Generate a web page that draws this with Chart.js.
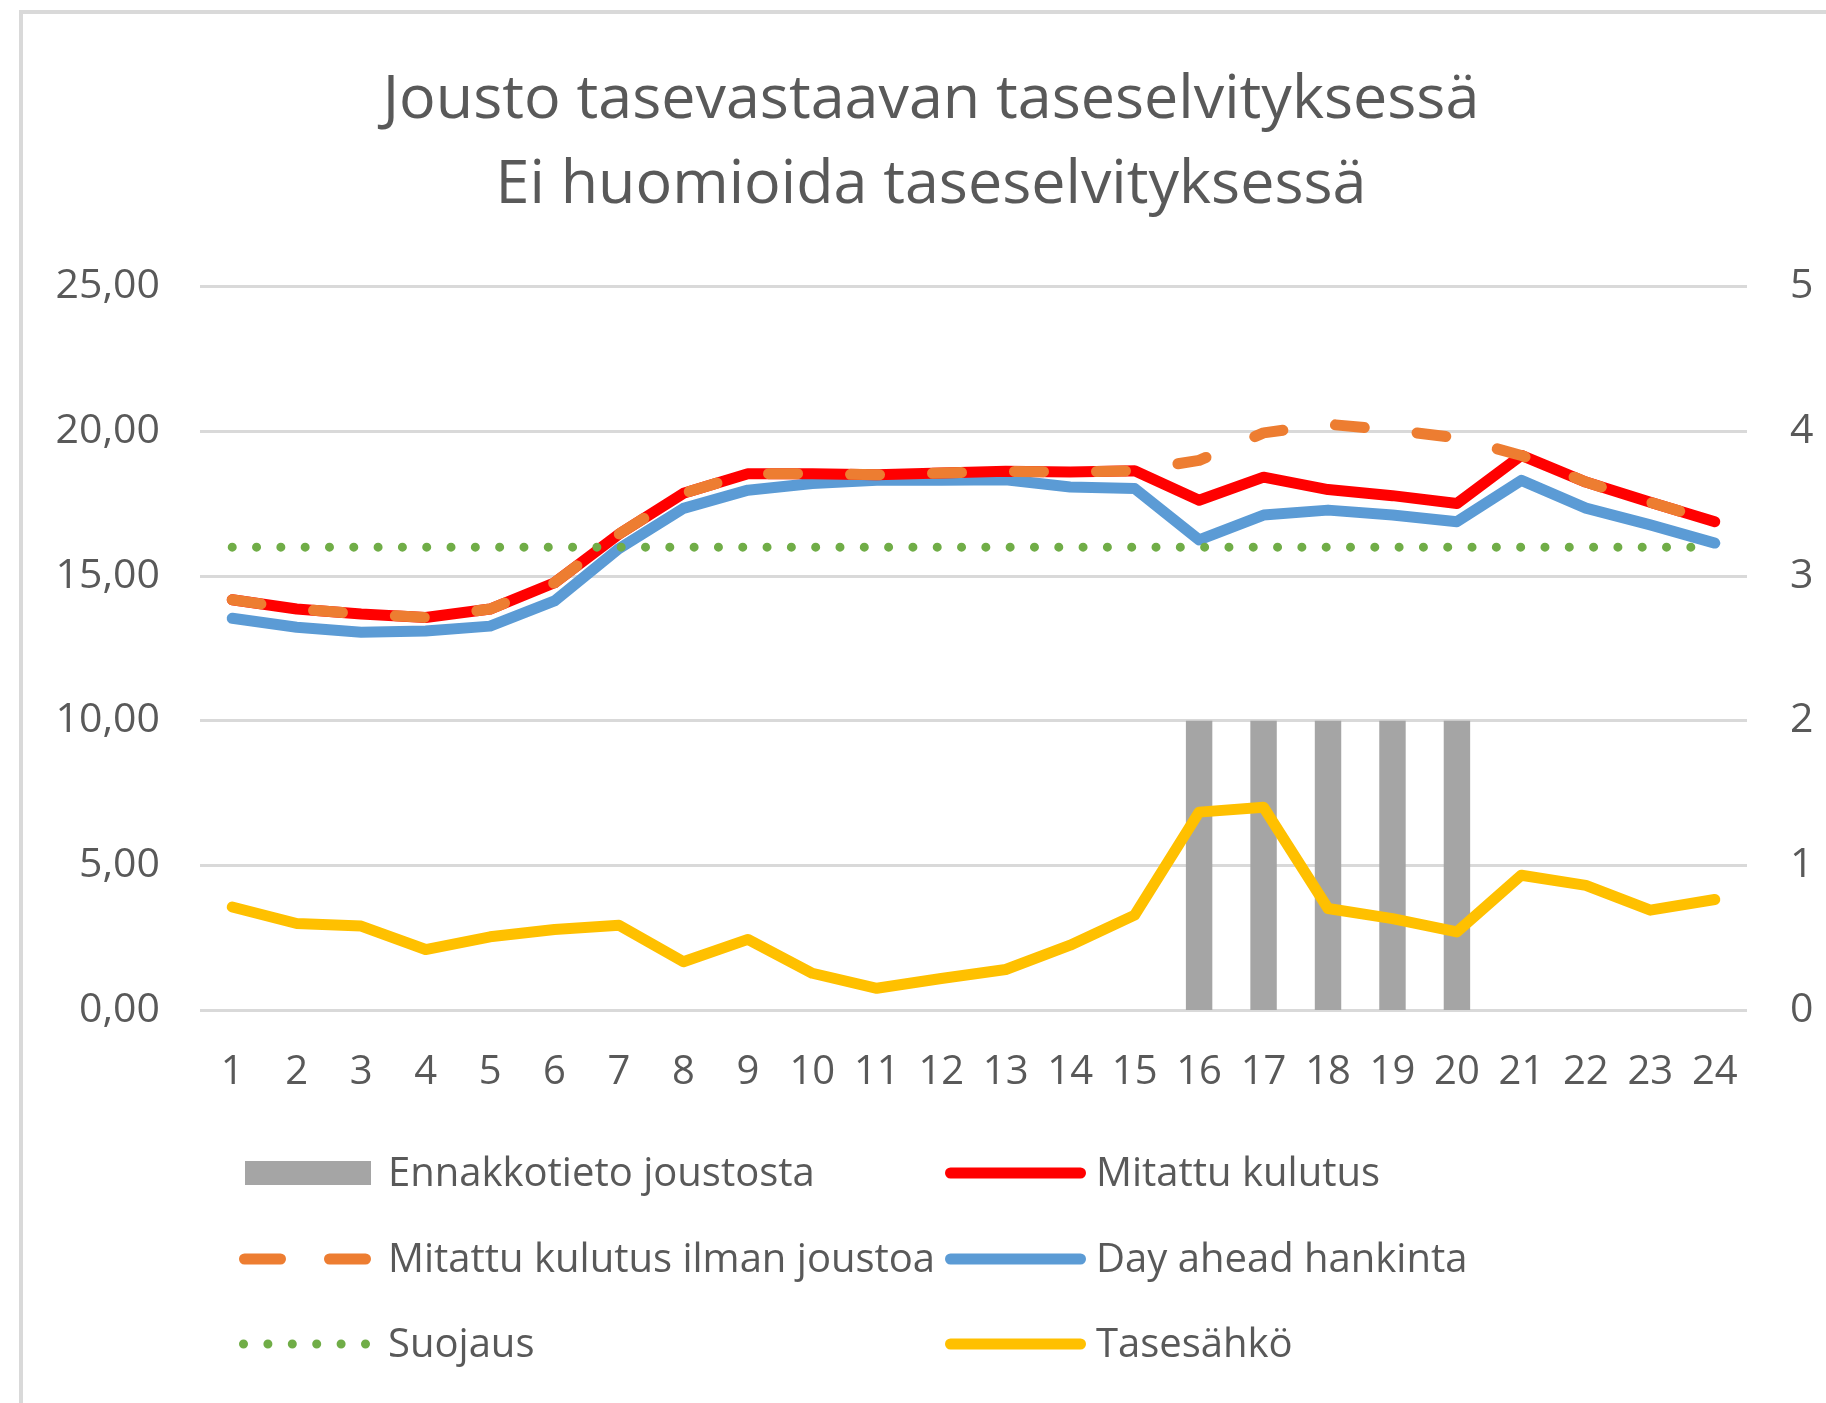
<!DOCTYPE html>
<html><head><meta charset="utf-8">
<script src="https://cdn.jsdelivr.net/npm/chart.js@4"></script>
<style>
html,body{margin:0;padding:0;background:#fff;overflow:hidden;width:1826px;height:1403px;}
#frame{position:absolute;left:19px;top:10px;width:3000px;height:3000px;border-left:4px solid #d9d9d9;border-top:4px solid #d9d9d9;}
#c{position:absolute;left:0;top:0;}
</style></head><body>
<div id="frame"></div>
<canvas id="c" width="1826" height="1403"></canvas>
<script>
// ---- data ----
const hours = ['1','2','3','4','5','6','7','8','9','10','11','12','13','14','15','16','17','18','19','20','21','22','23','24'];
const ennakkotieto = [null,null,null,null,null,null,null,null,null,null,null,null,null,null,null,2,2,2,2,2,null,null,null,null];
const mitattuKulutus = [14.18,13.86,13.69,13.57,13.86,14.77,16.45,17.86,18.54,18.54,18.50,18.56,18.62,18.60,18.64,17.62,18.42,17.99,17.78,17.51,19.17,18.25,17.55,16.88];
const ilmanJoustoa = [14.18,13.86,13.69,13.57,13.86,14.77,16.45,17.86,18.54,18.54,18.50,18.56,18.62,18.60,18.64,19.00,19.95,20.25,20.05,19.78,19.17,18.25,17.55,16.88];
const dayAhead = [13.54,13.23,13.06,13.10,13.27,14.14,15.95,17.34,17.97,18.20,18.31,18.31,18.33,18.08,18.03,16.25,17.11,17.28,17.11,16.88,18.31,17.35,16.77,16.14];
const suojaus = [16,16,16,16,16,16,16,16,16,16,16,16,16,16,16,16,16,16,16,16,16,16,16,16];
const tasesahko = [3.56,2.99,2.90,2.09,2.53,2.78,2.93,1.67,2.44,1.27,0.75,1.09,1.40,2.24,3.28,6.84,7.01,3.51,3.16,2.70,4.66,4.31,3.45,3.82];
const leftTicks = ['0,00','5,00','10,00','15,00','20,00','25,00'];
const rightTicks = ['0','1','2','3','4','5'];
const titleLines = ['Jousto tasevastaavan taseselvityksessä','Ei huomioida taseselvityksessä'];
const seriesNames = ['Ennakkotieto joustosta','Mitattu kulutus','Mitattu kulutus ilman joustoa','Day ahead hankinta','Suojaus','Tasesähkö'];

const TXT = '#595959';
const FONT = '"Open Sans", "Noto Sans", sans-serif';

const legendPlugin = {
  id: 'gridLegend',
  afterDraw(chart) {
    const ctx = chart.ctx;
    const ds = chart.data.datasets;
    const cols = [{x1:245, x2:371, tx:388}, {x1:951, x2:1086, tx:1096}];
    const rows = [1173, 1259, 1344];
    ds.forEach((d, i) => {
      const c = cols[i % 2], y = rows[Math.floor(i / 2)];
      ctx.save();
      if (d.type === 'bar') {
        ctx.fillStyle = d.backgroundColor;
        ctx.fillRect(c.x1, y - 12, c.x2 - c.x1, 24);
      } else {
        const w = d.borderWidth;
        ctx.strokeStyle = d.borderColor;
        ctx.lineWidth = w;
        ctx.lineCap = 'round';
        ctx.setLineDash(d.legendDash || []);
        ctx.beginPath();
        ctx.moveTo(c.x1 + w / 2 - 6, y);
        ctx.lineTo(c.x2 - w / 2 - (d.legendShort || 0), y);
        ctx.stroke();
      }
      ctx.setLineDash([]);
      ctx.fillStyle = TXT;
      ctx.font = '40px ' + FONT;
      ctx.textBaseline = 'middle';
      ctx.textAlign = 'left';
      ctx.fillText(d.label, c.tx, y + 2);
      ctx.restore();
    });
  }
};

function lineDs(label, data, color, width, order, extra) {
  return Object.assign({
    type: 'line', label, data, borderColor: color, backgroundColor: color,
    borderWidth: width, pointRadius: 0, pointHoverRadius: 0, tension: 0,
    borderCapStyle: 'round', borderJoinStyle: 'round', fill: false,
    yAxisID: 'y', order
  }, extra || {});
}

function draw() {
  new Chart(document.getElementById('c'), {
    data: {
      labels: hours,
      datasets: [
        { type: 'bar', label: seriesNames[0], data: ennakkotieto, backgroundColor: '#a5a5a5',
          borderWidth: 0, yAxisID: 'y2', order: 10, barPercentage: 0.41, categoryPercentage: 1 },
        lineDs(seriesNames[1], mitattuKulutus, '#ff0000', 11, 4),
        lineDs(seriesNames[2], ilmanJoustoa, '#ed7d31', 11, 3, { borderDash: [29, 53], legendDash: [36, 49] }),
        lineDs(seriesNames[3], dayAhead, '#5b9bd5', 11, 5),
        lineDs(seriesNames[4], suojaus, '#70ad47', 9, 2, { borderDash: [0.01, 24.3], legendDash: [0.01, 24.39], legendShort: 0.9 }),
        lineDs(seriesNames[5], tasesahko, '#ffc000', 11, 1)
      ]
    },
    options: {
      responsive: false,
      animation: false,
      devicePixelRatio: 1,
      layout: { padding: { left: 36, right: 0, top: 0, bottom: 0 } },
      plugins: {
        legend: { display: false },
        tooltip: { enabled: false },
        title: {
          display: true, text: titleLines, color: TXT,
          font: { family: FONT, size: 61, weight: 'normal', lineHeight: 1.4 },
          padding: { top: 58, bottom: 58 }
        }
      },
      scales: {
        x: {
          type: 'category', offset: true,
          grid: { display: false, drawTicks: false },
          border: { display: false },
          ticks: { color: TXT, font: { family: FONT, size: 40 }, padding: 39, maxRotation: 0, autoSkip: false },
          afterFit: s => { s.height = 393; }
        },
        y: {
          position: 'left', min: 0, max: 25,
          grid: { color: '#d9d9d9', lineWidth: 3, drawTicks: false },
          border: { display: false },
          ticks: { stepSize: 5, color: TXT, font: { family: FONT, size: 41 }, padding: 40,
                   callback: (v, i) => leftTicks[i] },
          afterFit: s => { s.width = 164; }
        },
        y2: {
          position: 'right', min: 0, max: 5,
          grid: { display: false, drawTicks: false },
          border: { display: false },
          ticks: { stepSize: 1, color: TXT, font: { family: FONT, size: 41 }, padding: 43,
                   callback: (v, i) => rightTicks[i] },
          afterFit: s => { s.width = 79; }
        }
      }
    },
    plugins: [legendPlugin]
  });
}
if (document.fonts && document.fonts.load) {
  Promise.all([document.fonts.load('40px "Open Sans"')]).then(draw, draw);
} else draw();
</script>
</body></html>
